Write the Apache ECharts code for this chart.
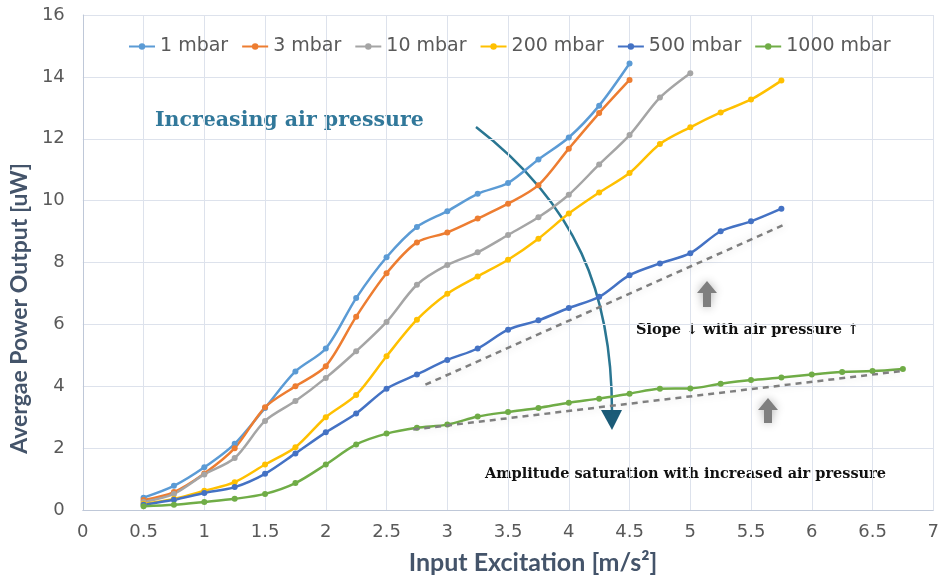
<!DOCTYPE html>
<html>
<head>
<meta charset="utf-8">
<script src="https://cdn.jsdelivr.net/npm/echarts@6/dist/echarts.min.js"></script>
<style>
  html, body { margin: 0; padding: 0; background: #fff; }
  #chart { width: 942px; height: 580px; }
</style>
</head>
<body>
<div id="chart"></div>
<script>
// excitation levels (m/s^2), step 0.25
const excitation = [0.5, 0.75, 1, 1.25, 1.5, 1.75, 2, 2.25, 2.5, 2.75, 3, 3.25, 3.5, 3.75, 4, 4.25, 4.5,
  4.75, 5, 5.25, 5.5, 5.75, 6, 6.25, 6.5, 6.75];

const seriesNames = ["1 mbar", "3 mbar", "10 mbar", "200 mbar", "500 mbar", "1000 mbar"];
const seriesColors = ["#5B9BD5", "#ED7D31", "#A5A5A5", "#FFC000", "#4472C4", "#70AD47"];

const p1 = [0.4, 0.78, 1.38, 2.14, 3.3, 4.48, 5.22, 6.85, 8.17, 9.15, 9.66, 10.22, 10.57, 11.33, 12.04, 13.07, 14.43];
const p3 = [0.32, 0.58, 1.18, 2.0, 3.32, 4.0, 4.65, 6.25, 7.65, 8.65, 8.97, 9.42, 9.9, 10.5, 11.68, 12.83, 13.9];
const p10 = [0.26, 0.52, 1.15, 1.68, 2.88, 3.52, 4.27, 5.13, 6.08, 7.28, 7.92, 8.33, 8.89, 9.46, 10.19, 11.17,
  12.12, 13.33, 14.12];
const p200 = [0.2, 0.36, 0.62, 0.9, 1.47, 2.03, 3.0, 3.72, 4.97, 6.15, 6.99, 7.55, 8.09, 8.77, 9.58, 10.26,
  10.89, 11.83, 12.37, 12.85, 13.27, 13.88];
const p500 = [0.17, 0.33, 0.55, 0.74, 1.17, 1.83, 2.51, 3.12, 3.92, 4.38, 4.85, 5.22, 5.83, 6.13, 6.53, 6.89,
  7.59, 7.97, 8.3, 9.01, 9.33, 9.74];
const p1000 = [0.12, 0.17, 0.26, 0.36, 0.52, 0.87, 1.47, 2.12, 2.47, 2.66, 2.76, 3.02, 3.17, 3.3, 3.47, 3.6,
  3.76, 3.92, 3.93, 4.08, 4.2, 4.28, 4.38, 4.46, 4.49, 4.56];

// dashed trend lines [x, y] end points
const trend500 = [[2.82, 4.05], [5.76, 9.2]];
const trend1000 = [[2.72, 2.6], [6.76, 4.5]];

const allValues = [p1, p3, p10, p200, p500, p1000];

const chart = echarts.init(document.getElementById("chart"));

const dashStyle = {
  color: "#7F7F7F",
  width: 2.5,
  type: [6, 5],
  shadowColor: "rgba(0,0,0,0.18)",
  shadowBlur: 8
};

const series = seriesNames.map(function (name, i) {
  const s = {
    name: name,
    type: "line",
    smooth: 0.3,
    symbol: "circle",
    symbolSize: 6,
    color: seriesColors[i],
    lineStyle: { width: 2.5 },
    data: allValues[i].map(function (v, k) { return [excitation[k], v]; })
  };
  if (name === "500 mbar" || name === "1000 mbar") {
    const t = name === "500 mbar" ? trend500 : trend1000;
    s.markLine = {
      silent: true,
      symbol: ["none", "none"],
      label: { show: false },
      lineStyle: dashStyle,
      data: [[{ coord: t[0] }, { coord: t[1] }]]
    };
  }
  return s;
});

const font = "Lato, 'Open Sans', sans-serif";
const wide = "'DejaVu Sans', sans-serif";
const serif = "'DejaVu Serif', 'Liberation Serif', serif";

const option = {
  animation: false,
  textStyle: { fontFamily: font },
  legend: {
    top: 32,
    left: 123,
    itemWidth: 26,
    itemHeight: 8,
    itemGap: 13,
    textStyle: { fontSize: 19, color: "#595959", fontFamily: wide },
    data: seriesNames
  },
  grid: { left: 82, right: 3, top: 15, bottom: 67 },
  xAxis: {
    type: "value",
    min: 0,
    max: 7,
    interval: 0.5,
    name: "Input Excitation [m/s²]",
    nameLocation: "middle",
    nameGap: 40,
    nameTextStyle: { fontSize: 25, fontWeight: "bold", color: "#44546A", fontFamily: font, padding: [0, 0, 0, 50] },
    axisLine: { lineStyle: { color: "#BFC8D8", width: 1 } },
    axisTick: { show: false },
    axisLabel: { fontSize: 18, color: "#595959", margin: 13, showMaxLabel: true, fontFamily: wide },
    splitLine: { show: true, lineStyle: { color: "#DDE2EC", width: 1 } }
  },
  yAxis: {
    type: "value",
    min: 0,
    max: 16,
    interval: 2,
    name: "Avergae Power Output [uW]",
    nameLocation: "middle",
    nameGap: 45,
    nameTextStyle: { fontSize: 23, fontWeight: "bold", color: "#44546A", fontFamily: font, padding: [0, 92, 0, 0] },
    axisLine: { show: true, lineStyle: { color: "#BFC8D8", width: 1 } },
    axisTick: { show: false },
    axisLabel: { fontSize: 18, color: "#595959", margin: 18, fontFamily: wide },
    splitLine: { show: true, lineStyle: { color: "#DDE2EC", width: 1 } }
  },
  series: series,
  graphic: [
    {
      type: "text",
      left: 155,
      top: 110,
      style: {
        text: "Increasing air pressure",
        font: "bold 20.5px " + serif,
        fill: "#31789A"
      }
    },
    {
      type: "bezierCurve",
      shape: { x1: 476, y1: 127, cpx1: 576, cpy1: 204, cpx2: 612, cpy2: 292, x2: 612, y2: 412 },
      style: { stroke: "#2A7692", lineWidth: 2.5, fill: null }
    },
    {
      type: "polygon",
      shape: { points: [[601, 410], [622, 410], [612, 430]] },
      style: { fill: "#1B5B78" }
    },
    {
      type: "polygon",
      shape: { points: [[707, 281], [717, 293], [711, 293], [711, 307], [703, 307], [703, 293], [697, 293]] },
      style: { fill: "#7F7F7F", shadowBlur: 10, shadowColor: "rgba(0,0,0,0.3)" }
    },
    {
      type: "polygon",
      shape: { points: [[768, 398], [778, 410], [772, 410], [772, 423], [764, 423], [764, 410], [758, 410]] },
      style: { fill: "#7F7F7F", shadowBlur: 10, shadowColor: "rgba(0,0,0,0.3)" }
    },
    {
      type: "text",
      left: 636,
      top: 323,
      style: {
        text: "Slope ↓ with air pressure ↑",
        font: "bold 14.5px " + serif,
        fill: "#111"
      }
    },
    {
      type: "text",
      left: 485,
      top: 467,
      style: {
        text: "Amplitude saturation with increased air pressure",
        font: "bold 14.5px " + serif,
        fill: "#111"
      }
    }
  ]
};

chart.setOption(option);
</script>
</body>
</html>
